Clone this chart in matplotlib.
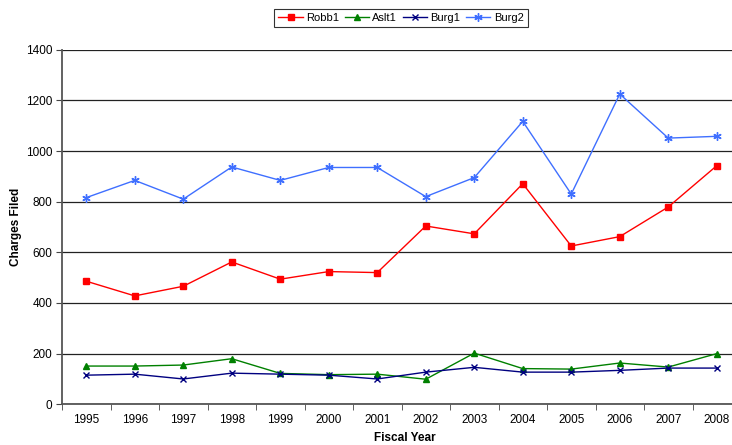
import matplotlib
matplotlib.use("Agg")
import matplotlib.pyplot as plt
import numpy as np

years = [1995, 1996, 1997, 1998, 1999, 2000, 2001, 2002, 2003, 2004, 2005, 2006, 2007, 2008]
robb1 = [486, 428, 466, 562, 494, 524, 520, 704, 673, 871, 625, 662, 779, 942]
aslt1 = [151, 151, 155, 180, 122, 117, 119, 99, 202, 141, 139, 163, 147, 200]
burg1 = [115, 119, 100, 123, 119, 115, 100, 127, 146, 127, 127, 134, 143, 143]
burg2 = [816, 884, 810, 937, 884, 935, 935, 820, 895, 1117, 830, 1225, 1051, 1058]
yticks = [0, 200, 400, 600, 800, 1000, 1200, 1400]

plt.rcParams['font.family'] = ['Liberation Sans', 'DejaVu Sans']

W, H = 732, 445
fig = plt.figure(figsize=(W/100, H/100), dpi=100)
ax = fig.add_axes([62/W, (H-404.3)/H, (741-62)/W, (404.3-49.7)/H])

x = np.arange(len(years))
ax.plot(x, robb1, color='#FF0000', marker='s', markersize=4.5, lw=1, label='Robb1')
ax.plot(x, aslt1, color='#008000', marker='^', markersize=5, lw=1, label='Aslt1')
ax.plot(x, burg1, color='#000080', marker='x', markersize=5, mew=1, lw=1, label='Burg1')
ax.plot(x, burg2, color='#3F6FFF', marker=(6, 2, 0), markersize=6, mew=1, lw=1, label='Burg2')

ax.set_xlim(-0.5, len(years) - 0.5)
ax.set_ylim(0, 1400)
ax.set_yticks(yticks)
ax.set_yticklabels([str(v) for v in yticks], fontsize=8.5)
ax.set_xticks(x)
ax.set_xticklabels([str(y) for y in years], fontsize=8.5)
ax.set_xticks(np.arange(-0.5, len(years)), minor=True)
ax.tick_params(axis='x', which='major', length=0, pad=7)
ax.tick_params(axis='x', which='minor', length=4, direction='out', color='#444444')
ax.tick_params(axis='y', length=4, direction='out', color='#444444', pad=3)

ax.grid(axis='y', color='#222222', lw=0.9)
ax.set_axisbelow(True)
for s in ['top', 'right']:
    ax.spines[s].set_visible(False)
for s in ['left', 'bottom']:
    ax.spines[s].set_color('#555555')
    ax.spines[s].set_linewidth(1.3)

fig.text(405/W, 1 - 438/H, 'Fiscal Year', fontsize=8.5, fontweight='bold', ha='center', va='center')
fig.text(16/W, 1 - 227/H, 'Charges Filed', fontsize=8.5, fontweight='bold', ha='center', va='center',
         rotation=90)

leg = fig.legend(loc='center', bbox_to_anchor=(401/W, 1 - 18/H), ncol=4, fontsize=8,
                 frameon=True, fancybox=False, edgecolor='black', handlelength=2.2,
                 handletextpad=0.3, columnspacing=0.5, borderpad=0.35)
leg.get_frame().set_linewidth(0.8)

fig.savefig('out.png', dpi=100)
